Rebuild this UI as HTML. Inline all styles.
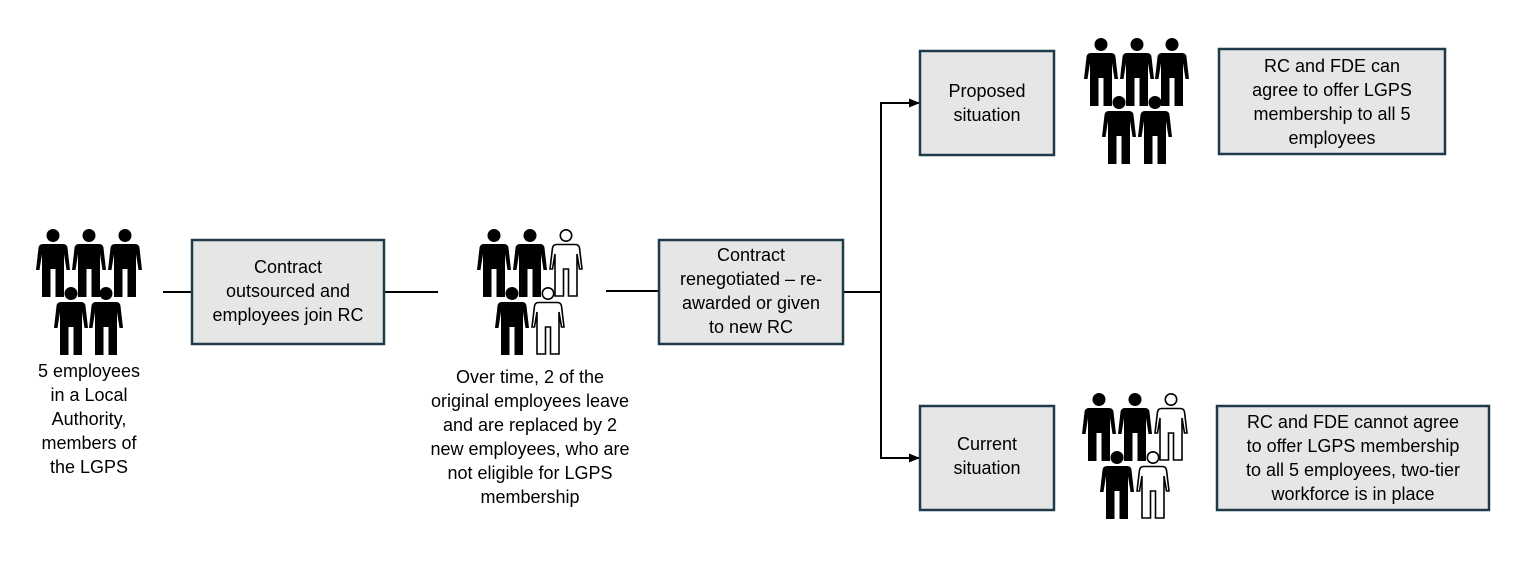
<!DOCTYPE html>
<html><head><meta charset="utf-8"><style>
body{margin:0;background:#fff;}
svg{display:block;font-family:"Liberation Sans",Arial,sans-serif;}
text{font-size:18px;fill:#000;text-anchor:middle;}
</style></head><body>
<svg width="1537" height="585" viewBox="0 0 1537 585" xmlns="http://www.w3.org/2000/svg">
<defs>
<g id="pf"><circle cx="17" cy="6.5" r="6.5"/><path d="M7,15 H27 Q31,15 31.5,19 L34,41 L30.5,41 L28,25 L28,68 L19.5,68 L19.5,40 L14.5,40 L14.5,68 L6,68 L6,25 L3.5,41 L0,41 L2.5,19 Q3,15 7,15 Z"/></g>
<g id="po" fill="#fff" stroke="#000" stroke-width="1.6"><circle cx="17" cy="6.5" r="5.7"/><path d="M8,15.5 H26 Q30,15.5 30.5,19 L33,40 L30.5,40 L28,25 L28,67 L19.5,67 L19.5,40 L14.5,40 L14.5,67 L6,67 L6,25 L3.5,40 L1,40 L3.5,19 Q4,15.5 8,15.5 Z"/></g>
<marker id="ar" markerWidth="11" markerHeight="10" refX="10" refY="5" orient="auto" markerUnits="userSpaceOnUse"><path d="M0,0.5 L11,5 L0,9.5 Z" fill="#000"/></marker>
</defs>

<g stroke="#000" stroke-width="2" fill="none">
<line x1="163" y1="292" x2="192" y2="292"/>
<line x1="384" y1="292" x2="438" y2="292"/>
<line x1="606" y1="291" x2="659" y2="291"/>
<line x1="843" y1="292" x2="881" y2="292"/>
<line x1="881" y1="103" x2="881" y2="458"/>
<line x1="880" y1="103" x2="919" y2="103" marker-end="url(#ar)"/>
<line x1="880" y1="458" x2="919" y2="458" marker-end="url(#ar)"/>
</g>

<g fill="#e7e6e6" stroke="#1f3a4a" stroke-width="2.5">
<rect x="192" y="240" width="192" height="104"/>
<rect x="659" y="240" width="184" height="104"/>
<rect x="920" y="51" width="134" height="104"/>
<rect x="920" y="406" width="134" height="104"/>
<rect x="1219" y="49" width="226" height="105"/>
<rect x="1217" y="406" width="272" height="104"/>
</g>

<text x="288" y="273">Contract</text>
<text x="288" y="297">outsourced and</text>
<text x="288" y="321">employees join RC</text>

<text x="751" y="261">Contract</text>
<text x="751" y="285">renegotiated – re-</text>
<text x="751" y="309">awarded or given</text>
<text x="751" y="333">to new RC</text>

<text x="987" y="97">Proposed</text>
<text x="987" y="121">situation</text>
<text x="987" y="450">Current</text>
<text x="987" y="474">situation</text>

<text x="1332" y="72">RC and FDE can</text>
<text x="1332" y="96">agree to offer LGPS</text>
<text x="1332" y="120">membership to all 5</text>
<text x="1332" y="144">employees</text>

<text x="1353" y="428">RC and FDE cannot agree</text>
<text x="1353" y="452">to offer LGPS membership</text>
<text x="1353" y="476">to all 5 employees, two-tier</text>
<text x="1353" y="500">workforce is in place</text>

<text x="89" y="377">5 employees</text>
<text x="89" y="401">in a Local</text>
<text x="89" y="425">Authority,</text>
<text x="89" y="449">members of</text>
<text x="89" y="473">the LGPS</text>

<text x="530" y="383">Over time, 2 of the</text>
<text x="530" y="407">original employees leave</text>
<text x="530" y="431">and are replaced by 2</text>
<text x="530" y="455">new employees, who are</text>
<text x="530" y="479">not eligible for LGPS</text>
<text x="530" y="503">membership</text>

<use href="#pf" x="36" y="229"/><use href="#pf" x="72" y="229"/><use href="#pf" x="108" y="229"/>
<use href="#pf" x="54" y="287"/><use href="#pf" x="89" y="287"/>
<use href="#pf" x="477" y="229"/><use href="#pf" x="513" y="229"/><use href="#po" x="549" y="229"/>
<use href="#pf" x="495" y="287"/><use href="#po" x="531" y="287"/>
<use href="#pf" x="1084" y="38"/><use href="#pf" x="1120" y="38"/><use href="#pf" x="1155" y="38"/>
<use href="#pf" x="1102" y="96"/><use href="#pf" x="1138" y="96"/>
<use href="#pf" x="1082" y="393"/><use href="#pf" x="1118" y="393"/><use href="#po" x="1154" y="393"/>
<use href="#pf" x="1100" y="451"/><use href="#po" x="1136" y="451"/>
</svg>
</body></html>
